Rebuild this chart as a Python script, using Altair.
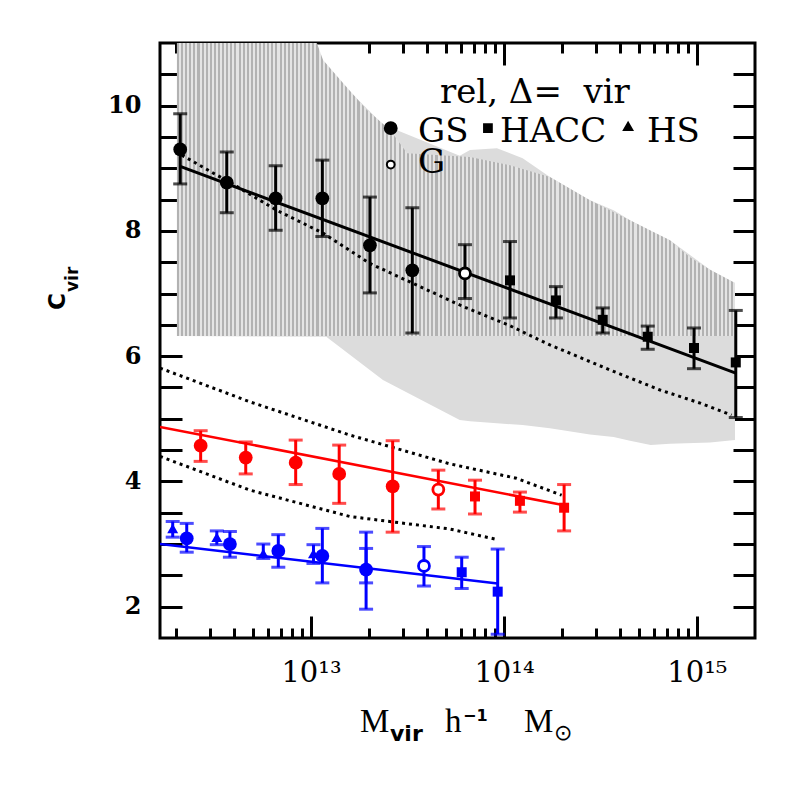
import altair as alt
import pandas as pd

# ---------------- data ----------------
# black, Delta = vir, relaxed
bk_gs_m  = [2.10e12, 3.66e12, 6.56e12, 1.145e13, 2.02e13, 3.35e13]
bk_gs_c  = [9.30, 8.77, 8.52, 8.52, 7.77, 7.37]
bk_gs_lo = [8.75, 8.29, 8.01, 7.91, 7.01, 6.37]
bk_gs_hi = [9.87, 9.26, 9.04, 9.13, 8.54, 8.37]
bk_g_m  = [6.28e13]
bk_g_c  = [7.32]
bk_g_lo = [6.92]
bk_g_hi = [7.78]
bk_hacc_m  = [1.075e14, 1.86e14, 3.25e14, 5.56e14, 9.66e14, 1.59e15]
bk_hacc_c  = [7.21, 6.89, 6.58, 6.31, 6.13, 5.90]
bk_hacc_lo = [6.61, 6.61, 6.37, 6.11, 5.80, 5.02]
bk_hacc_hi = [7.83, 7.11, 6.77, 6.48, 6.45, 6.73]

# red
rd_gs_m  = [2.68e12, 4.59e12, 8.33e12, 1.40e13, 2.65e13]
rd_gs_c  = [4.57, 4.38, 4.30, 4.12, 3.92]
rd_gs_lo = [4.32, 4.12, 3.95, 3.65, 3.19]
rd_gs_hi = [4.81, 4.63, 4.66, 4.58, 4.65]
rd_g_m  = [4.57e13]
rd_g_c  = [3.87]
rd_g_lo = [3.56]
rd_g_hi = [4.18]
rd_hacc_m  = [7.08e13, 1.21e14, 2.05e14]
rd_hacc_c  = [3.76, 3.69, 3.58]
rd_hacc_lo = [3.48, 3.51, 3.21]
rd_hacc_hi = [4.02, 3.83, 3.95]

# blue
bl_hs_m  = [1.92e12, 3.25e12, 5.66e12, 1.03e13, 1.93e13]
bl_hs_c  = [3.25, 3.11, 2.85, 2.85, 2.66]
bl_hs_lo = [3.11, 2.99, 2.77, 2.69, 2.38]
bl_hs_hi = [3.36, 3.21, 3.00, 2.99, 2.93]
bl_gs_m  = [2.27e12, 3.80e12, 6.77e12, 1.145e13, 1.93e13]
bl_gs_c  = [3.09, 3.00, 2.89, 2.81, 2.59]
bl_gs_lo = [2.87, 2.79, 2.63, 2.38, 1.96]
bl_gs_hi = [3.33, 3.20, 3.15, 3.25, 3.19]
bl_g_m  = [3.85e13]
bl_g_c  = [2.65]
bl_g_lo = [2.33]
bl_g_hi = [2.96]
bl_hacc_m  = [6.04e13, 9.28e13]
bl_hacc_c  = [2.55, 2.24]
bl_hacc_lo = [2.29, 1.56]
bl_hacc_hi = [2.79, 2.92]

# fitted relations (solid)
fit_bk_m = [2.10e12, 1.59e15]
fit_bk_c = [9.03, 5.73]
fit_rd_m = [1.65e12, 2.05e14]
fit_rd_c = [4.87, 3.62]
fit_bl_m = [1.65e12, 9.28e13]
fit_bl_c = [3.00, 2.37]

# dotted curves
dot_bk_m = [2.14e12, 4.12e12, 6.64e12, 1.16e13, 2.02e13, 3.39e13, 6.16e13,
            1.05e14, 1.73e14, 3.54e14, 6.44e14, 1.04e15, 1.51e15]
dot_bk_c = [9.21, 8.71, 8.33, 7.96, 7.48, 7.16, 6.79, 6.50, 6.18, 5.78, 5.46, 5.25, 5.06]
dot_up_m = [1.65e12, 4.83e12, 1.59e13, 5.25e13, 1.16e14, 1.99e14]
dot_up_c = [5.81, 5.27, 4.74, 4.28, 4.05, 3.78]
dot_lo_m = [1.65e12, 4.83e12, 1.59e13, 5.25e13, 9.28e13]
dot_lo_c = [4.40, 3.86, 3.44, 3.24, 3.07]

# shaded regions
band_a_m  = [2.02e12, 9.88e12, 1.155e13, 1.465e13, 1.95e13, 2.57e13, 3.15e13, 6.67e13,
             1.075e14, 1.73e14, 2.79e14, 4.50e14, 7.25e14, 9.21e14, 1.17e15, 1.575e15]
band_a_hi = [11.3, 11.3, 10.73, 10.36, 9.93, 9.61, 9.24, 9.18,
             9.05, 8.86, 8.49, 8.17, 7.85, 7.58, 7.38, 7.17]
band_a_lo = [6.32] * 16
band_b_m  = [2.02e12, 1.20e13, 2.36e13, 5.90e13, 6.67e13, 9.20e13, 1.25e14,
             1.73e14, 2.79e14, 3.70e14, 4.50e14, 5.76e14, 7.25e14, 1.17e15, 1.575e15]
band_b_hi = [11.3, 10.6, 9.70, 9.20, 9.29, 9.32, 9.16,
             8.86, 8.49, 8.33, 8.17, 8.00, 7.85, 7.38, 7.17]
band_b_lo = [6.32, 6.31, 5.62, 4.98, 4.96, 4.93, 4.90,
             4.85, 4.75, 4.71, 4.65, 4.58, 4.60, 4.62, 4.66]

x_major = [1e13, 1e14, 1e15]
x_major_labels = ["10\u00b9\u00b3", "10\u00b9\u2074", "10\u00b9\u2075"]
x_minor = [k * 10.0 ** e for e in (12, 13, 14) for k in range(2, 10)]
y_ticks = [2 + 0.5 * i for i in range(18)]

X_DOMAIN = [1.65e12, 2.0e15]
Y_DOMAIN = [1.5, 11.0]

# ---------------- helpers ----------------
xs = alt.Scale(type="log", domain=X_DOMAIN, nice=False)
ys = alt.Scale(domain=Y_DOMAIN, nice=False, zero=False)


def X(field="m", axis=None):
    return alt.X(f"{field}:Q", scale=xs, axis=axis)


def Y(field="c", axis=None):
    return alt.Y(f"{field}:Q", scale=ys, axis=axis)


def pts(m, c, lo, hi, color):
    return pd.DataFrame({"m": m, "c": c, "lo": lo, "hi": hi, "col": color})


def band(m, hi, lo):
    return pd.DataFrame({"m": m, "hi": hi, "lo": lo})


def line_df(m, c):
    return pd.DataFrame({"m": m, "c": c})


RED, BLUE, BLACK = "#ff0000", "#0000ff", "#000000"

filled_circles = pd.concat([
    pts(bk_gs_m, bk_gs_c, bk_gs_lo, bk_gs_hi, BLACK),
    pts(rd_gs_m, rd_gs_c, rd_gs_lo, rd_gs_hi, RED),
    pts(bl_gs_m, bl_gs_c, bl_gs_lo, bl_gs_hi, BLUE),
])
open_circles = pd.concat([
    pts(bk_g_m, bk_g_c, bk_g_lo, bk_g_hi, BLACK),
    pts(rd_g_m, rd_g_c, rd_g_lo, rd_g_hi, RED),
    pts(bl_g_m, bl_g_c, bl_g_lo, bl_g_hi, BLUE),
])
squares = pd.concat([
    pts(bk_hacc_m, bk_hacc_c, bk_hacc_lo, bk_hacc_hi, BLACK),
    pts(rd_hacc_m, rd_hacc_c, rd_hacc_lo, rd_hacc_hi, RED),
    pts(bl_hacc_m, bl_hacc_c, bl_hacc_lo, bl_hacc_hi, BLUE),
])
triangles = pts(bl_hs_m, bl_hs_c, bl_hs_lo, bl_hs_hi, BLUE)
all_pts = pd.concat([triangles, filled_circles, open_circles, squares])

COL = alt.Color("col:N", scale=None)

# vertical hatching for the upper band, as a hard-stop linear gradient
N_STRIPES = 136
stripe_stops = []
for i in range(N_STRIPES):
    a, b, c_ = i / N_STRIPES, (i + 0.5) / N_STRIPES, (i + 1) / N_STRIPES
    stripe_stops += [
        alt.GradientStop(color="#b2b2b2", offset=a),
        alt.GradientStop(color="#b2b2b2", offset=b),
        alt.GradientStop(color="#e4e4e4", offset=b),
        alt.GradientStop(color="#e4e4e4", offset=c_),
    ]
stripes = alt.Gradient(gradient="linear", stops=stripe_stops, x1=0, x2=1, y1=0, y2=0)

layers = []

# shaded regions
layers.append(alt.Chart(band(band_b_m, band_b_hi, band_b_lo)).mark_area(
    color="#dcdcdc", clip=True, interpolate="linear").encode(
    x=X(), y=Y("hi"), y2="lo:Q"))
layers.append(alt.Chart(band(band_a_m, band_a_hi, band_a_lo)).mark_area(
    color=stripes, clip=True, interpolate="linear").encode(
    x=X(), y=Y("hi"), y2="lo:Q"))

# dotted curves
for m, c in [(dot_bk_m, dot_bk_c), (dot_up_m, dot_up_c), (dot_lo_m, dot_lo_c)]:
    layers.append(alt.Chart(line_df(m, c)).mark_line(
        color="black", strokeWidth=3, strokeDash=[3, 4], strokeCap="butt", clip=True).encode(
        x=X(), y=Y()))

# fits
for m, c, col, w in [(fit_bk_m, fit_bk_c, BLACK, 3), (fit_rd_m, fit_rd_c, RED, 2.6),
                     (fit_bl_m, fit_bl_c, BLUE, 2.6)]:
    layers.append(alt.Chart(line_df(m, c)).mark_line(
        color=col, strokeWidth=w, clip=True).encode(x=X(), y=Y()))

# error bars
layers.append(alt.Chart(all_pts).mark_rule(strokeWidth=3, clip=True).encode(
    x=X(), y=Y("lo"), y2="hi:Q", color=COL))
for f in ("lo", "hi"):
    layers.append(alt.Chart(all_pts).mark_tick(
        orient="horizontal", size=14, thickness=3, clip=True).encode(
        x=X(), y=Y(f), color=COL))

# symbols
layers.append(alt.Chart(triangles).mark_point(
    shape="triangle-up", filled=True, size=120, opacity=1).encode(
    x=X(), y=Y(), color=COL))
layers.append(alt.Chart(filled_circles).mark_point(
    shape="circle", filled=True, size=190, opacity=1).encode(
    x=X(), y=Y(), color=COL))
layers.append(alt.Chart(open_circles).mark_point(
    shape="circle", filled=False, fill="white", size=120, strokeWidth=2.8, opacity=1).encode(
    x=X(), y=Y(), stroke=alt.Stroke("col:N", scale=None)))
layers.append(alt.Chart(squares).mark_point(
    shape="square", filled=True, size=100, opacity=1).encode(
    x=X(), y=Y(), color=COL))

# in-plot legend
NB = "\u00a0"
leg_text = pd.DataFrame({
    "m": [4.66e13, 3.59e13, 9.54e13, 5.51e14, 3.59e13],
    "c": [10.04, 9.42, 9.42, 9.42, 8.92],
    "t": ["rel," + NB + "\u0394=" + NB + NB + "vir", "GS", "HACC", "HS", "G"],
})
layers.append(alt.Chart(leg_text).mark_text(
    align="left", baseline="alphabetic", font="DejaVu Serif", fontSize=34,
    color="black").encode(x=X(), y=Y(), text="t:N"))
leg_sym = pd.DataFrame({
    "m": [2.59e13, 8.26e13, 4.40e14, 2.59e13],
    "c": [9.64, 9.64, 9.67, 9.06],
    "s": ["circle", "square", "triangle-up", "circle"],
    "f": ["black", "black", "black", "white"],
    "z": [140, 60, 70, 60],
})
layers.append(alt.Chart(leg_sym).mark_point(
    stroke="black", strokeWidth=2, opacity=1).encode(
    x=X(), y=Y(), shape=alt.Shape("s:N", scale=None),
    fill=alt.Fill("f:N", scale=None), size=alt.Size("z:Q", scale=None)))

# axis titles (composed text with sub/superscripts)
def txt(t, x, y, font, size, weight="normal", angle=0):
    return alt.Chart(pd.DataFrame({"a": [0]})).mark_text(
        text=t, align="left", baseline="alphabetic", font=font, fontSize=size,
        fontWeight=weight, angle=angle, color="black").encode(
        x=alt.value(x), y=alt.value(y))

layers += [
    txt("M", 200, 689, "Liberation Serif", 33),
    txt("vir", 230, 698, "DejaVu Sans", 22, "bold"),
    txt("h", 285, 689, "Liberation Serif", 33),
    txt("\u22121", 303, 678, "DejaVu Sans", 16, "bold"),
    txt("M", 364, 689, "Liberation Serif", 33),
    txt("\u2299", 394, 697, "DejaVu Sans", 22),
    txt("C", -95, 267, "DejaVu Sans", 23, "bold", 270),
    txt("vir", -82, 249, "DejaVu Sans", 17, "bold", 270),
]

# axes (ticks pointing inwards via negative offsets)
common = dict(domain=False, grid=False, title=None, tickColor="black", tickWidth=3)
lab_expr = " : ".join(
    f"datum.value == {v:g} ? '{l}'" for v, l in zip(x_major, x_major_labels)) + " : ''"
ax_xb_major = alt.Axis(orient="bottom", values=x_major, tickSize=22, offset=-22,
                       labelExpr=lab_expr, labelFont="DejaVu Serif", labelFontSize=29,
                       labelPadding=20, labelColor="black", labelFlush=False,
                       labelOverlap=False, **common)
ax_xb_minor = alt.Axis(orient="bottom", values=x_minor, tickSize=10, offset=-10,
                       labels=False, **common)
ax_xt_major = alt.Axis(orient="top", values=x_major, tickSize=22, offset=-22,
                       labels=False, **common)
ax_xt_minor = alt.Axis(orient="top", values=x_minor, tickSize=10, offset=-10,
                       labels=False, **common)
ax_yl = alt.Axis(orient="left", values=y_ticks, tickSize=22, offset=-22,
                 labelExpr="datum.value % 2 == 0 ? format(datum.value, 'd') : ''",
                 labelFont="DejaVu Serif", labelFontWeight="bold", labelFontSize=24,
                 labelPadding=19, labelColor="black", labelFlush=False,
                 labelOverlap=False, **common)
ax_yr = alt.Axis(orient="right", values=y_ticks, tickSize=22, offset=-22,
                 labels=False, **common)

axis_df = pd.DataFrame({"m": [1e13], "c": [5.0]})
for ax in (ax_xb_major, ax_xb_minor, ax_xt_major, ax_xt_minor):
    layers.append(alt.Chart(axis_df).mark_point(opacity=0).encode(x=X(axis=ax), y=Y()))
for ax in (ax_yl, ax_yr):
    layers.append(alt.Chart(axis_df).mark_point(opacity=0).encode(x=X(), y=Y(axis=ax)))

chart = alt.layer(*layers).resolve_axis(x="independent", y="independent").properties(
    width=595, height=595,
    padding={"left": 152, "top": 35, "right": 34, "bottom": 146},
    autosize=alt.AutoSizeParams(type="none"),
    background="white",
).configure_view(stroke="black", strokeWidth=3)

chart.save("out.html", embed_options={"renderer": "svg", "actions": False})
